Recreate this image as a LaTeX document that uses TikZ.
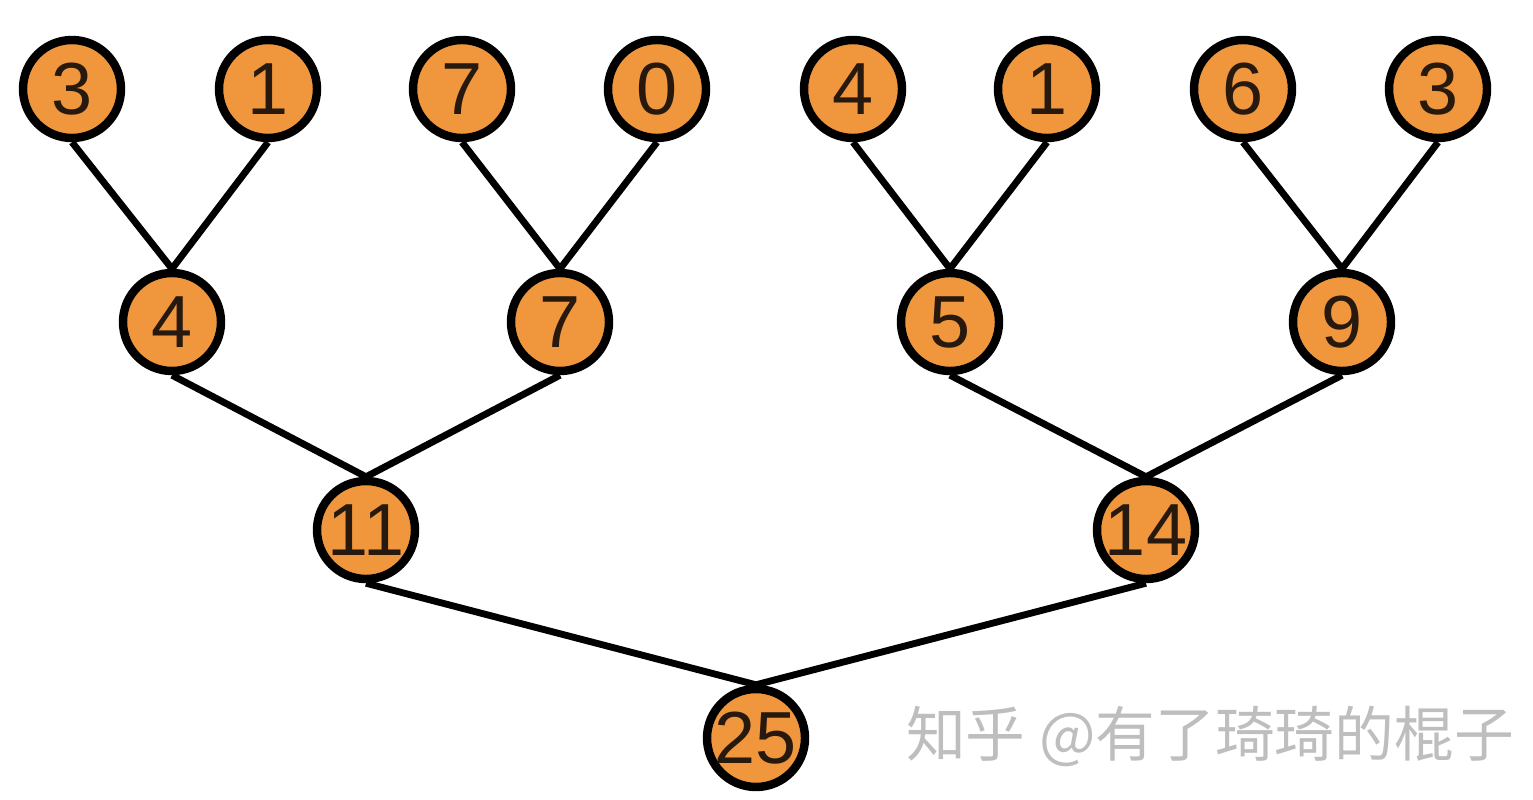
\documentclass[tikz,border=0pt]{standalone}
\usepackage{fontspec}
\setmainfont{Liberation Sans}
\newfontfamily\cjk{Noto Sans CJK SC}
\definecolor{nodeorange}{RGB}{240,150,60}
\definecolor{digitink}{RGB}{40,25,15}
\definecolor{markgray}{RGB}{190,190,190}
\begin{document}
\begin{tikzpicture}[line width=3.9pt,
  num/.style = {draw, circle, fill = nodeorange, line width=4.8pt, minimum size=1.96cm, inner sep=0pt, text=digitink, font=\fontsize{42}{42}\selectfont},]
\useasboundingbox (0,0) rectangle (30.66,15.98);
\node (A) at (1.44,14.2)[num] {3};
\node (B) at (5.36,14.2)[num] {1};
\node (C) at (9.24,14.2)[num] {7};
\node (D) at (13.14,14.2)[num] {0};
\node (E) at (17.06,14.2)[num] {4};
\node (F) at (20.94,14.2)[num] {1};
\node (G) at (24.86,14.2)[num] {6};
\node (H) at (28.76,14.2)[num] {3};
\node (AB) at (3.44,9.54)[num] {4};
\node (CD) at (11.2,9.54)[num] {7};
\node (EF) at (19.0,9.54)[num] {5};
\node (GH) at (26.84,9.54)[num] {9};
\node (L) at (7.32,5.38)[num] {11};
\node (R) at (22.92,5.38)[num] {14};
\node (S) at (15.12,1.22)[num] {25};
\draw (A.south)--(AB.north);
\draw (B.south)--(AB.north);
\draw (C.south)--(CD.north);
\draw (D.south)--(CD.north);
\draw (E.south)--(EF.north);
\draw (F.south)--(EF.north);
\draw (G.south)--(GH.north);
\draw (H.south)--(GH.north);
\draw (AB.south)--(L.north);
\draw (CD.south)--(L.north);
\draw (EF.south)--(R.north);
\draw (GH.south)--(R.north);
\draw (L.south)--(S.north);
\draw (R.south)--(S.north);
\node (W) at (24.2,1.26)[text=markgray, font=\cjk\fontsize{34}{34}\selectfont] {知乎 @有了琦琦的棍子};
\end{tikzpicture}
\end{document}
